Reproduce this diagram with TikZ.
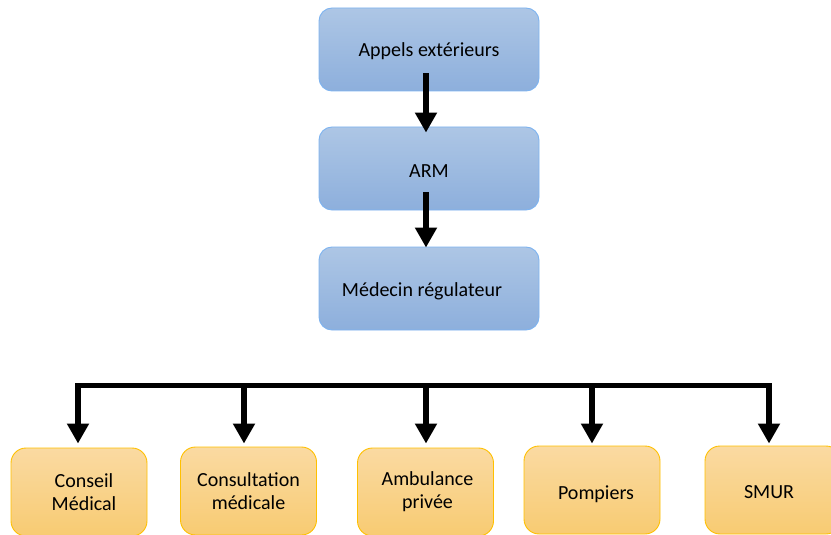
\documentclass[tikz,border=0pt]{standalone}
\usepackage{fontspec}
\setmainfont{Carlito}
\usetikzlibrary{arrows.meta}
\definecolor{bluetop}{HTML}{ADC6E5}
\definecolor{bluebot}{HTML}{8DAFDC}
\definecolor{blueline}{HTML}{7DB3F0}
\definecolor{orgtop}{HTML}{FADAA2}
\definecolor{orgbot}{HTML}{F8CB72}
\definecolor{orgline}{HTML}{FFC000}
\tikzset{
  bluebox/.style={draw=blueline, line width=0.9pt, rounded corners=13pt,
    top color=bluetop, bottom color=bluebot,
    minimum width=220pt, minimum height=83pt, inner sep=0pt,
    font=\fontsize{20}{24}\selectfont, align=center},
  orgbox/.style={draw=orgline, line width=0.9pt, rounded corners=15pt,
    top color=orgtop, bottom color=orgbot,
    minimum width=136pt, minimum height=88pt, inner sep=0pt,
    font=\fontsize{20}{23}\selectfont, align=center},
  txt/.style={font=\fontsize{20}{23}\selectfont, align=center, inner sep=0pt, label distance=0pt},
  arr/.style={line width=6pt, -{Triangle[width=21pt,length=20pt]}},
  bus/.style={line width=5pt}
}
\begin{document}
\begin{tikzpicture}[x=1pt,y=-1pt]
\useasboundingbox (0,0) rectangle (831,535);
\node[bluebox, label={[txt,yshift=-2pt]center:Appels extérieurs}] (appels) at (429,49.5) {};
\node[bluebox, label={[txt,yshift=-3pt]center:ARM}] (arm) at (429,168.5) {};
\node[bluebox, label={[txt,xshift=-7pt,yshift=-3pt]center:Médecin régulateur}] (medecin) at (429,288.5) {};

\node[orgbox] (conseil) at (79,492) {\hspace*{10pt}Conseil\\\hspace*{10pt}Médical};
\node[orgbox] (consult) at (248.5,491) {Consultation\\médicale};
\node[orgbox] (ambul) at (425.5,492) {\hspace*{4pt}Ambulance\\\hspace*{4pt}privée};
\node[orgbox, label={[txt,xshift=4pt,yshift=-4pt]center:Pompiers}] (pomp) at (592,490) {};
\node[orgbox, label={[txt,xshift=-4pt,yshift=-2pt]center:SMUR}] (smur) at (773,490) {};

\draw[arr] ([xshift=-3pt,yshift=18pt]appels.south) -- ([xshift=-3pt,yshift=-6pt]arm.north);
\draw[arr] ([xshift=-3pt,yshift=18pt]arm.south) -- ([xshift=-3pt,yshift=-1pt]medecin.north);

\coordinate (busL) at (75,385);
\coordinate (busR) at (772,385);
\draw[bus] (busL) -- (busR);
\coordinate (d1) at (78,383);
\coordinate (d2) at (244,383);
\coordinate (d3) at (426,383);
\coordinate (d4) at (592,383);
\coordinate (d5) at (769,383);
\draw[arr] (d1) -- ([xshift=-1pt,yshift=4pt]conseil.north);
\draw[arr] (d2) -- ([xshift=-4.5pt,yshift=3pt]consult.north);
\draw[arr] (d3) -- ([xshift=0.5pt,yshift=4pt]ambul.north);
\draw[arr] (d4) -- ([yshift=2pt]pomp.north);
\draw[arr] (d5) -- ([xshift=-4pt,yshift=2pt]smur.north);
\end{tikzpicture}
\end{document}
